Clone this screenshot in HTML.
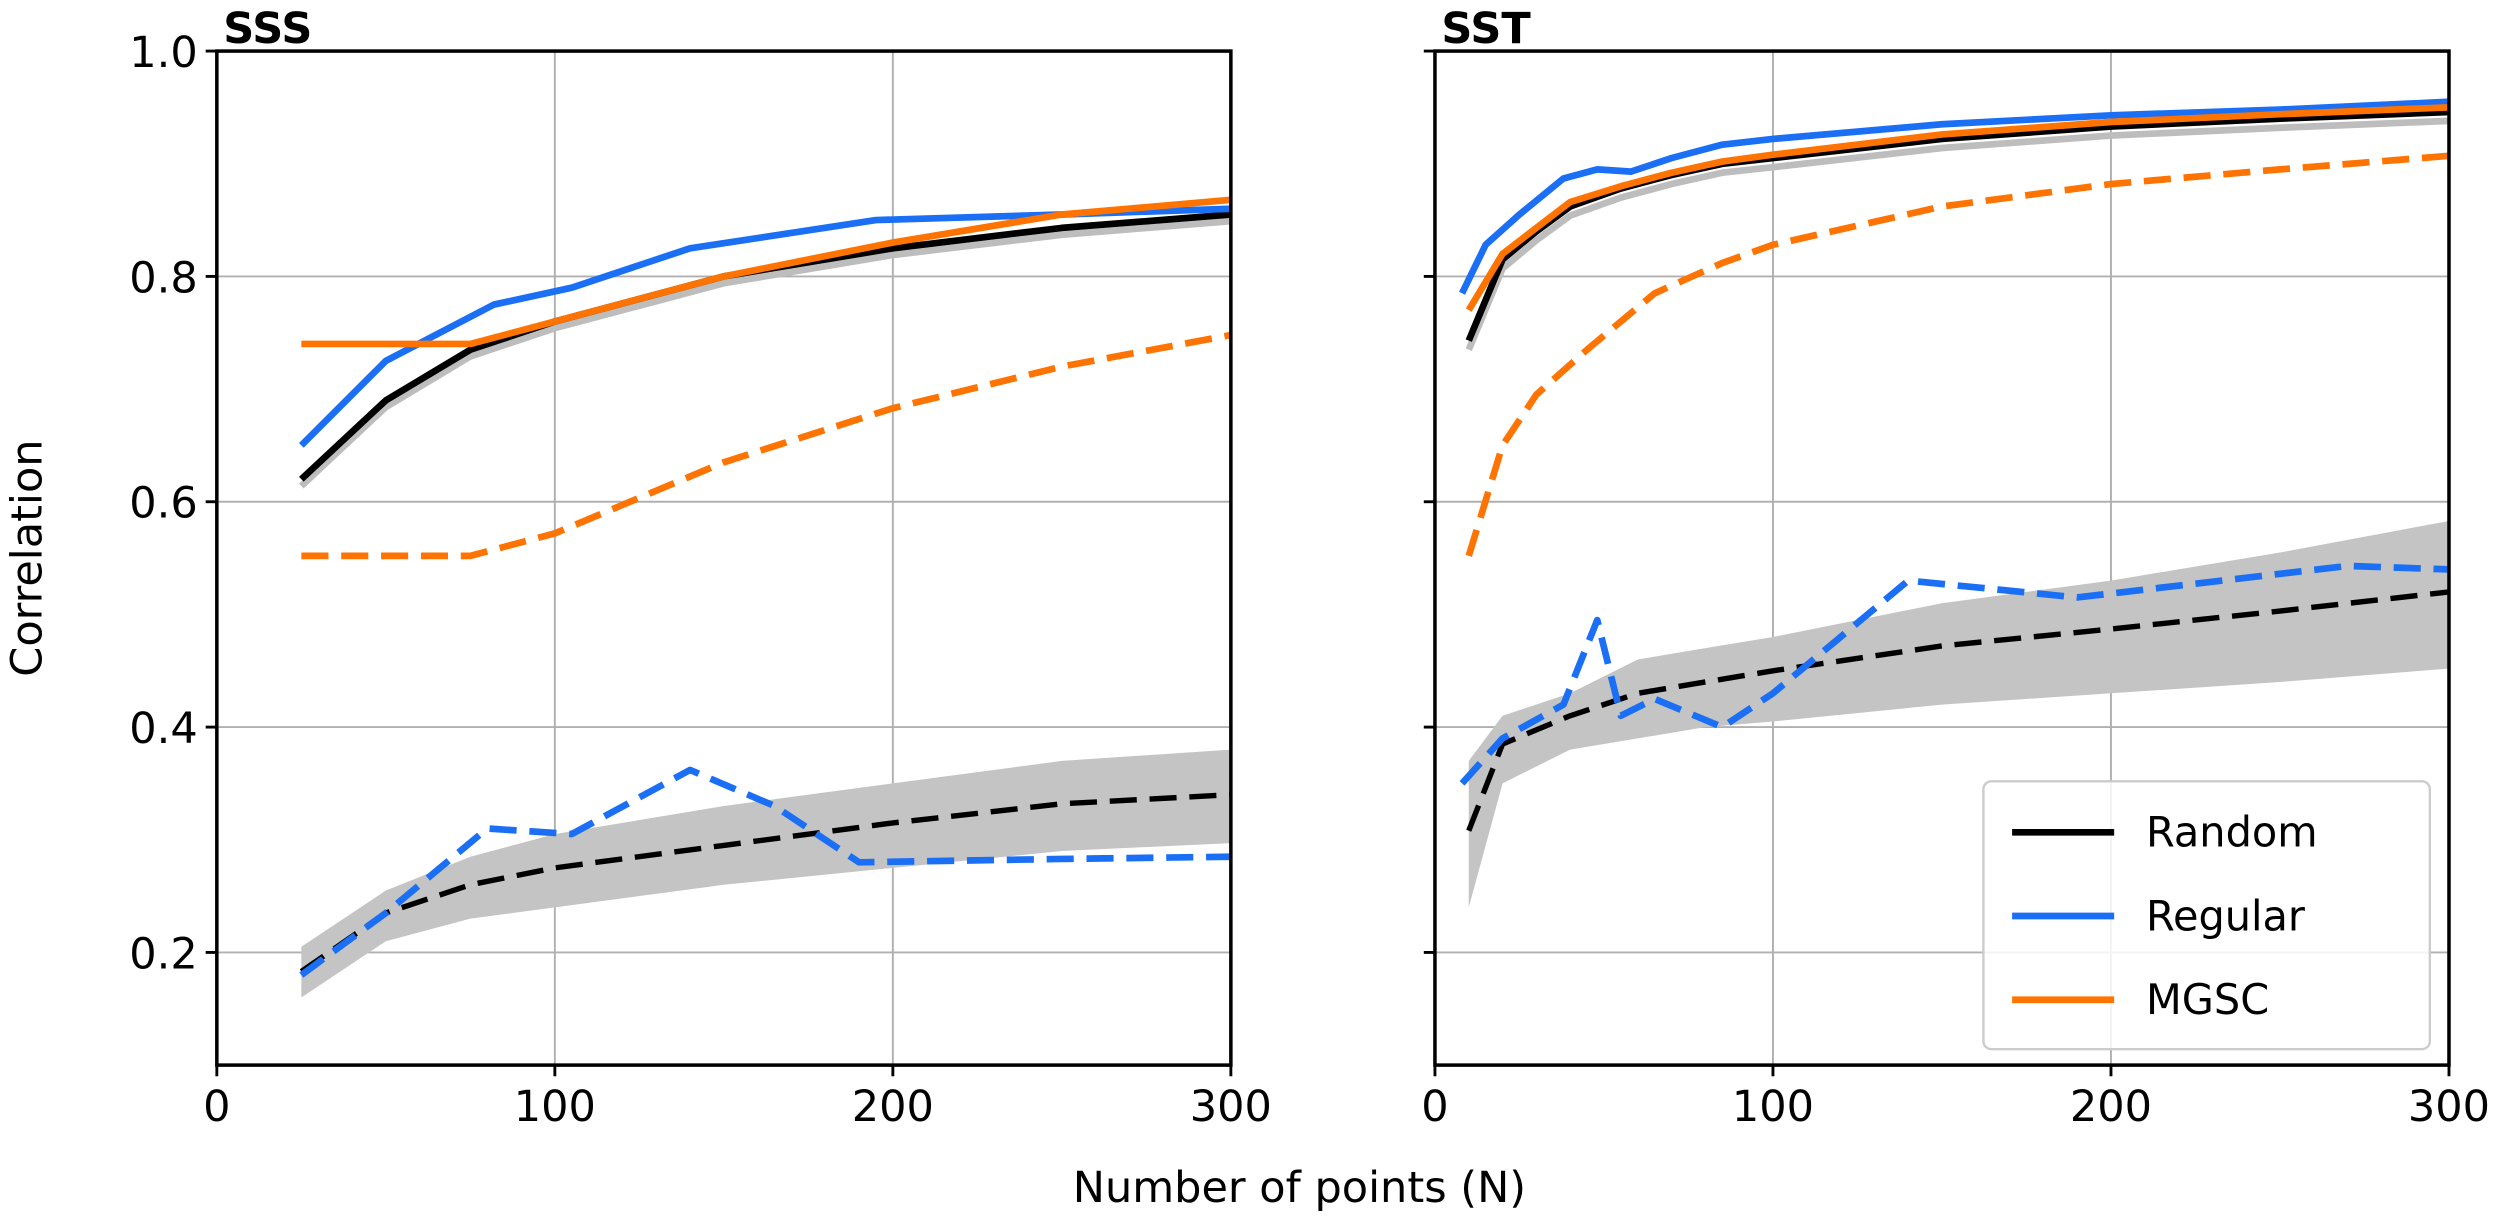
<!DOCTYPE html>
<html><head><meta charset="utf-8"><style>
html,body{margin:0;padding:0;background:#fff;}
svg{display:block;font-family:"DejaVu Sans","Liberation Sans",sans-serif;}
</style></head><body>
<svg id="chart" width="2500" height="1223" viewBox="0 0 1568 767" xmlns="http://www.w3.org/2000/svg">
<g id="root"></g>
</svg>
<script>
const xTicks=[0,100,200,300];
const yTicks=[0.2,0.4,0.6,0.8,1.0];
const panelTitles=["SSS","SST"];
// SSS panel
const sssRegN=[25,50,82,105,140,195,250,300];
const sssRegV=[0.65,0.725,0.775,0.79,0.825,0.85,0.855,0.86];
const sssRandN=[25,50,75,100,150,200,250,300];
const sssRandV=[0.62,0.69,0.735,0.76,0.80,0.825,0.843,0.855];
const sssMgscN=[25,75,100,150,200,250,300];
const sssMgscV=[0.74,0.74,0.76,0.80,0.83,0.855,0.868];
const sssMgscDashN=[25,75,100,150,200,250,300];
const sssMgscDashV=[0.552,0.552,0.572,0.635,0.683,0.72,0.748];
const sssRandDashN=[25,50,75,100,150,200,250,300];
const sssRandDashV=[0.183,0.235,0.26,0.275,0.295,0.315,0.332,0.34];
const sssBandLo=[0.16,0.21,0.23,0.24,0.26,0.275,0.29,0.297];
const sssBandHi=[0.205,0.255,0.285,0.305,0.33,0.35,0.37,0.38];
const sssRegDashN=[25,50,80,105,140,165,190,250,300];
const sssRegDashV=[0.18,0.235,0.31,0.305,0.362,0.33,0.28,0.283,0.285];
// SST panel
const sstRegN=[8,15,25,38,48,58,70,85,100,150,200,250,300];
const sstRegV=[0.785,0.828,0.855,0.887,0.895,0.893,0.905,0.917,0.922,0.935,0.943,0.948,0.955];
const sstRandN=[10,20,30,40,55,70,85,100,150,200,250,300];
const sstRandV=[0.743,0.815,0.84,0.862,0.878,0.89,0.9,0.905,0.922,0.933,0.94,0.946];
const sstMgscN=[10,20,30,40,55,70,85,100,150,200,250,300];
const sstMgscV=[0.77,0.82,0.843,0.866,0.88,0.892,0.902,0.908,0.926,0.937,0.944,0.95];
const sstMgscDashN=[10,20,30,45,65,85,100,150,200,250,300];
const sstMgscDashV=[0.552,0.65,0.695,0.735,0.785,0.812,0.828,0.862,0.882,0.895,0.907];
const sstRandDashN=[10,20,40,60,80,100,150,200,250,300];
const sstRandDashV=[0.308,0.385,0.41,0.43,0.44,0.45,0.472,0.487,0.503,0.52];
const sstBandLo=[0.24,0.35,0.38,0.39,0.40,0.405,0.42,0.43,0.44,0.452];
const sstBandHi=[0.37,0.41,0.43,0.46,0.47,0.48,0.51,0.53,0.555,0.583];
const sstRegDashN=[8,20,38,48,55,65,85,100,120,140,190,270,300];
const sstRegDashV=[0.35,0.39,0.42,0.495,0.41,0.425,0.4,0.43,0.48,0.53,0.515,0.543,0.54];

const NS="http://www.w3.org/2000/svg";
const root=document.getElementById('root');
const BLUE="#1a6ff5",ORANGE="#ff7300",BLACK="#000";
const AX_T=32,AX_B=668,PW=636;
const panelsX=[136,900];
function mk(tag,attrs,parent){const e=document.createElementNS(NS,tag);for(const k in attrs)e.setAttribute(k,attrs[k]);(parent||root).appendChild(e);return e;}
function yS(c){return AX_T+(1-c)*(AX_B-AX_T)/0.9;}
function xS(p,n){return panelsX[p]+n*PW/300;}
function pts(p,N,V){return N.map((n,i)=>xS(p,n).toFixed(1)+','+yS(V[i]).toFixed(1)).join(' ');}
function line(p,N,V,color,dash,name,w){
  const e=mk('polyline',{points:pts(p,N,V),fill:'none',stroke:color,'stroke-width':w||4.2,'stroke-linejoin':'round'});
  if(dash)e.setAttribute('stroke-dasharray','17,8');
  
  
}
function band(p,N,lo,hi,name){
  const top=N.map((n,i)=>xS(p,n).toFixed(1)+','+yS(hi[i]).toFixed(1));
  const bot=N.map((n,i)=>xS(p,n).toFixed(1)+','+yS(lo[i]).toFixed(1)).reverse();
  const e=mk('polygon',{points:top.concat(bot).join(' '),fill:'#c4c4c4'});
  
  
}
const series=[
 {p:0,N:sssRandDashN,lo:sssBandLo,hi:sssBandHi},
 {p:1,N:sstRandDashN,lo:sstBandLo,hi:sstBandHi}
];
for(let p=0;p<2;p++){
  const x0=panelsX[p];
  xTicks.forEach(t=>{const g=mk('line',{x1:xS(p,t),x2:xS(p,t),y1:AX_T,y2:AX_B,stroke:'#b0b0b0','stroke-width':1.2});
    
    });
  yTicks.forEach(t=>{const g=mk('line',{x1:x0,x2:x0+PW,y1:yS(t),y2:yS(t),stroke:'#b0b0b0','stroke-width':1.2});
    
    });
  const s=series[p];
  band(p,s.N,s.lo,s.hi,'random-dashed-band');
}
line(0,sssRandN,sssRandV.map(v=>v-0.006),'#bdbdbd',false,'random-solid-band-sss');
line(1,sstRandN,sstRandV.map(v=>v-0.008),'#bdbdbd',false,'random-solid-band-sst');
line(0,sssRandDashN,sssRandDashV,BLACK,true,'sss-random-dashed',3.4);
line(0,sssRegDashN,sssRegDashV,BLUE,true,'sss-regular-dashed');
line(0,sssMgscDashN,sssMgscDashV,ORANGE,true,'sss-mgsc-dashed');
line(0,sssRandN,sssRandV,BLACK,false,'sss-random-line');
line(0,sssRegN,sssRegV,BLUE,false,'sss-regular-line');
line(0,sssMgscN,sssMgscV,ORANGE,false,'sss-mgsc-line');
line(1,sstRandDashN,sstRandDashV,BLACK,true,'sst-random-dashed',3.4);
line(1,sstRegDashN,sstRegDashV,BLUE,true,'sst-regular-dashed');
line(1,sstMgscDashN,sstMgscDashV,ORANGE,true,'sst-mgsc-dashed');
line(1,sstRandN,sstRandV,BLACK,false,'sst-random-line');
line(1,sstRegN,sstRegV,BLUE,false,'sst-regular-line');
line(1,sstMgscN,sstMgscV,ORANGE,false,'sst-mgsc-line');

for(let p=0;p<2;p++){
  const x0=panelsX[p];
  const fr=mk('rect',{x:x0,y:AX_T,width:PW,height:AX_B-AX_T,fill:'none',stroke:'#000','stroke-width':2.2});
  
  
  xTicks.forEach(t=>{
    mk('line',{x1:xS(p,t),x2:xS(p,t),y1:AX_B,y2:AX_B+7,stroke:'#000','stroke-width':1.8});
    const tx=mk('text',{x:xS(p,t),y:AX_B+35,'font-size':27,'text-anchor':'middle'});
    tx.textContent=t;
    
    
  });
  yTicks.forEach(t=>{
    mk('line',{x1:x0-7,x2:x0,y1:yS(t),y2:yS(t),stroke:'#000','stroke-width':1.8});
    if(p===0){const ty=mk('text',{x:x0-12,y:yS(t)+10,'font-size':27,'text-anchor':'end'});
      ty.textContent=t.toFixed(1);
      
      }
  });
  const tt=mk('text',{x:x0+4,y:27,'font-size':27,'font-weight':'bold'});
  tt.textContent=panelTitles[p];
  
  
}
const yl=mk('text',{x:0,y:0,'font-size':27,'text-anchor':'middle',transform:'translate(26,350) rotate(-90)'});
yl.textContent='Correlation';


const xl=mk('text',{x:815,y:754,'font-size':27,'text-anchor':'middle'});
xl.textContent='Number of points (N)';


const lg=mk('g',{});


mk('rect',{x:1244,y:490,width:280,height:168,rx:5,fill:'#fff','fill-opacity':0.85,stroke:'#cccccc','stroke-width':1.5},lg);
const legNames=['Random','Regular','MGSC'];
const legColors=[BLACK,BLUE,ORANGE];
legNames.forEach((nm,i)=>{
  const y=522+i*52.5;
  const g=mk('g',{},lg);
  
  
  mk('line',{x1:1262,x2:1326,y1:y,y2:y,stroke:legColors[i],'stroke-width':4.2},g);
  const t=mk('text',{x:1346,y:y+9,'font-size':26},g);
  t.textContent=nm;
});
</script>
</body></html>
